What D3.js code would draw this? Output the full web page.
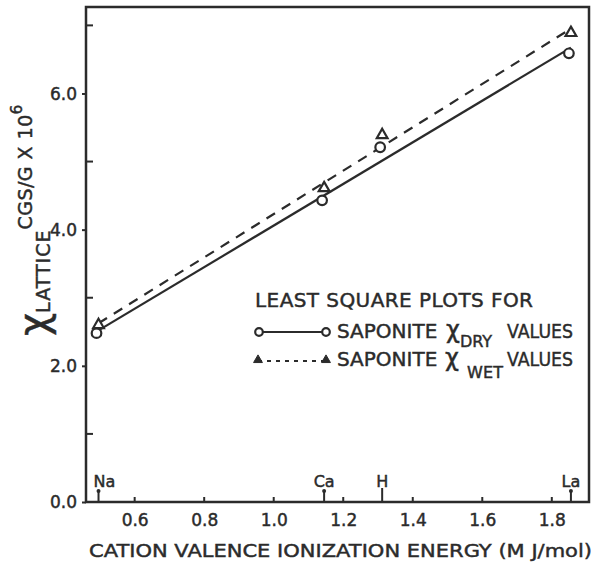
<!DOCTYPE html>
<html>
<head>
<meta charset="utf-8">
<script src="https://cdn.jsdelivr.net/npm/d3@7"></script>
<style>
  body { margin: 0; background: #fff; }
  svg text { font-family: "DejaVu Sans", sans-serif; fill: #2b2b2b; stroke: #2b2b2b; stroke-width: 0.45; }
</style>
</head>
<body>
<svg id="chart" width="597" height="564"></svg>
<script>
// cation valence ionization energies (MJ/mol)
const cations = ["Na", "Ca", "H", "La"];
const energy = [0.496, 1.145, 1.312, 1.855];
// lattice susceptibility x 10^6 (cgs/g)
const dryValues = [2.48, 4.43, 5.21, 6.59];
const wetValues = [2.60, 4.61, 5.39, 6.89];
const xTicks = [0.6, 0.8, 1.0, 1.2, 1.4, 1.6, 1.8];
const yTicks = [0, 2, 4, 6];
const yMinor = [1, 3, 5, 7];

const ink = "#2b2b2b";
const margin = {top: 7, right: 8, bottom: 62, left: 86};
const W = 597, H = 564;

const svg = d3.select("#chart");

const x = d3.scaleLinear().domain([0.46, 1.907]).range([margin.left, W - margin.right]);
const y = d3.scaleLinear().domain([0, 7.27]).range([H - margin.bottom, margin.top]);

// least squares fit
function fit(xs, ys) {
    let mx = d3.mean(xs), my = d3.mean(ys);
    let sxy = 0, sxx = 0;
    for (let i = 0; i < xs.length; i++) {
        sxy += (xs[i] - mx) * (ys[i] - my);
        sxx += (xs[i] - mx) * (xs[i] - mx);
    }
    let b = sxy / sxx;
    return {b: b, a: my - b * mx};
}

// frame
svg.append("rect")
    .attr("x", margin.left).attr("y", margin.top)
    .attr("width", W - margin.left - margin.right)
    .attr("height", H - margin.top - margin.bottom)
    .attr("fill", "none").attr("stroke", ink).attr("stroke-width", 2.5);

// y axis
let yAxis = svg.append("g").attr("transform", "translate(" + margin.left + ",0)")
    .call(d3.axisLeft(y).tickValues(yTicks).tickFormat(d3.format(".1f")).tickSize(4).tickPadding(5));
yAxis.select(".domain").remove();
yAxis.selectAll("line").attr("stroke", ink).attr("stroke-width", 2);
yAxis.selectAll("text").attr("font-size", 17).attr("fill", ink).attr("dy", "0.35em");

svg.append("g").selectAll("line").data(yMinor).join("line")
    .attr("x1", margin.left).attr("x2", margin.left + 7)
    .attr("y1", d => y(d)).attr("y2", d => y(d))
    .attr("stroke", ink).attr("stroke-width", 2);

// x axis
let xAxis = svg.append("g").attr("transform", "translate(0," + (H - margin.bottom) + ")")
    .call(d3.axisBottom(x).tickValues(xTicks).tickFormat(d3.format(".1f")).tickSize(0).tickPadding(12));
xAxis.select(".domain").remove();
xAxis.selectAll("text").attr("font-size", 17).attr("fill", ink);

svg.append("g").selectAll("line").data(xTicks).join("line")
    .attr("x1", d => x(d)).attr("x2", d => x(d))
    .attr("y1", y(0)).attr("y2", y(0) - 5)
    .attr("stroke", ink).attr("stroke-width", 2);

// cation markers on the x axis
let cat = svg.append("g").selectAll("g").data(cations).join("g")
    .attr("transform", (d, i) => "translate(" + x(energy[i]) + "," + y(0) + ")");
cat.append("line").attr("y1", 0).attr("y2", (d, i) => d == "H" ? -14 : -11)
    .attr("stroke", ink).attr("stroke-width", 2);
cat.filter(d => d != "H").append("circle").attr("cy", -11).attr("r", 2).attr("fill", ink);
cat.append("text").attr("y", -15)
    .attr("x", d => d == "Na" ? -5 : 0)
    .attr("text-anchor", d => d == "Na" ? "start" : "middle")
    .attr("font-size", 16).text(d => d);

// fitted lines
let fd = fit(energy, dryValues), fw = fit(energy, wetValues);
let x0 = energy[0], x1 = energy[energy.length - 1];
let line = d3.line().x(d => x(d[0])).y(d => y(d[1]));

svg.append("path")
    .attr("d", line([[x0, fd.a + fd.b * x0], [x1, fd.a + fd.b * x1]]))
    .attr("stroke", ink).attr("stroke-width", 2.2).attr("fill", "none");
svg.append("path")
    .attr("d", line([[x0, fw.a + fw.b * x0], [x1, fw.a + fw.b * x1]]))
    .attr("stroke", ink).attr("stroke-width", 2.2).attr("fill", "none")
    .attr("stroke-dasharray", "10,8");

// points
let tri = d3.symbol().type(d3.symbolTriangle).size(50);
svg.append("g").selectAll("circle").data(dryValues).join("circle")
    .attr("cx", (d, i) => x(energy[i]) - 2).attr("cy", d => y(d))
    .attr("r", 4.8).attr("fill", "#fff").attr("stroke", ink).attr("stroke-width", 2.2);
svg.append("g").selectAll("path").data(wetValues).join("path")
    .attr("transform", (d, i) => "translate(" + x(energy[i]) + "," + y(d) + ")")
    .attr("d", tri).attr("fill", "#fff").attr("stroke", ink).attr("stroke-width", 2.2);

// x title
svg.append("text").attr("x", 89).attr("y", 557)
    .attr("font-size", 18.5).attr("textLength", 503).attr("lengthAdjust", "spacingAndGlyphs")
    .text("CATION   VALENCE   IONIZATION   ENERGY (M J/mol)");

// y title
let yt = svg.append("text").attr("transform", "translate(47,336) rotate(-90)");
yt.append("tspan").attr("font-size", 40).text("χ");
yt.append("tspan").attr("font-size", 19).attr("dy", 3).attr("letter-spacing", 1).text("LATTICE");
yt.append("tspan").attr("font-size", 19).attr("dy", -18).attr("letter-spacing", 0.5).text("CGS/G X 10");
yt.append("tspan").attr("font-size", 15).attr("dy", -10).text("6");

// legend
let lg = svg.append("g");
lg.append("text").attr("x", 255).attr("y", 307).attr("font-size", 20)
    .attr("textLength", 278).text("LEAST  SQUARE  PLOTS  FOR");

lg.append("line").attr("x1", 259).attr("x2", 326).attr("y1", 332).attr("y2", 332)
    .attr("stroke", ink).attr("stroke-width", 2.2);
lg.selectAll(".lc").data([259, 326]).join("circle").attr("class", "lc")
    .attr("cx", d => d).attr("cy", 332).attr("r", 3.8)
    .attr("fill", "#fff").attr("stroke", ink).attr("stroke-width", 2.2);
lg.append("text").attr("x", 337).attr("y", 338).attr("font-size", 20).text("SAPONITE");
lg.append("text").attr("x", 446).attr("y", 338).attr("font-size", 24).text("χ");
lg.append("text").attr("x", 460).attr("y", 347).attr("font-size", 16)
    .attr("textLength", 32).text("DRY");
lg.append("text").attr("x", 507).attr("y", 338).attr("font-size", 20)
    .attr("textLength", 66).attr("lengthAdjust", "spacingAndGlyphs").text("VALUES");

lg.append("line").attr("x1", 258).attr("x2", 326).attr("y1", 361).attr("y2", 361)
    .attr("stroke", ink).attr("stroke-width", 2.2).attr("stroke-dasharray", "4,5");
lg.selectAll(".lt").data([258, 326]).join("path").attr("class", "lt")
    .attr("transform", d => "translate(" + d + ",360)")
    .attr("d", d3.symbol().type(d3.symbolTriangle).size(34))
    .attr("fill", ink).attr("stroke", ink).attr("stroke-width", 1);
lg.append("text").attr("x", 337).attr("y", 366).attr("font-size", 20).text("SAPONITE");
lg.append("text").attr("x", 445).attr("y", 366).attr("font-size", 24).text("χ");
lg.append("text").attr("x", 467).attr("y", 378).attr("font-size", 16)
    .attr("textLength", 36).text("WET");
lg.append("text").attr("x", 507).attr("y", 366).attr("font-size", 20)
    .attr("textLength", 66).attr("lengthAdjust", "spacingAndGlyphs").text("VALUES");
</script>
</body>
</html>
